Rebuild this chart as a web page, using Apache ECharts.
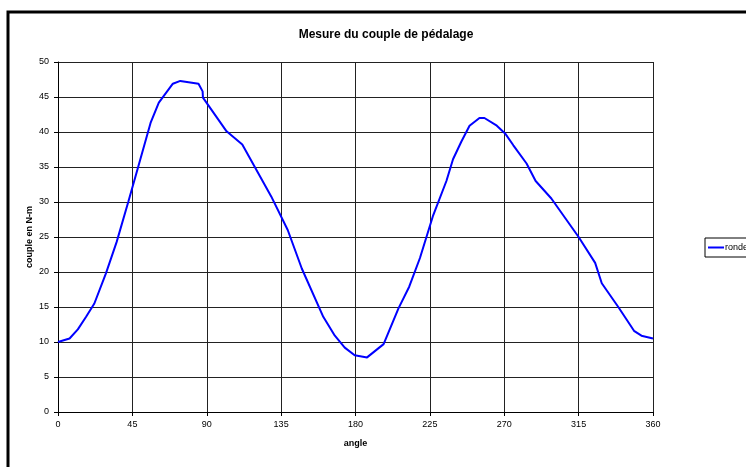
<!DOCTYPE html>
<html>
<head>
<meta charset="utf-8">
<script src="https://cdn.jsdelivr.net/npm/echarts@6/dist/echarts.min.js"></script>
<style>
  html, body { margin: 0; padding: 0; background: #fff; }
  #chart { width: 746px; height: 467px; }
</style>
</head>
<body>
<div id="chart"></div>
<script>
// angle (degrés) et couple (N-m)
const angles = [0, 7, 12, 17, 22, 29, 35.5, 42.5, 48.5, 56, 61, 69.5, 74, 85, 87.5, 87.7,
  102, 111.5, 129, 139, 147.5, 160.5, 167.5, 173.5, 179.5, 187, 197, 206, 212.5, 219,
  227, 235, 239, 244, 249, 255, 258, 265.5, 270.5, 275.5, 283.5, 289, 298.5, 315, 325,
  329, 339, 348.5, 353, 360]
const couple = [10.0, 10.5, 11.8, 13.6, 15.5, 19.8, 24.3, 30.0, 35.0, 41.3, 44.2, 46.9, 47.3, 46.9, 45.8, 44.9,
  40.1, 38.2, 30.8, 26.0, 20.5, 13.6, 10.9, 9.2, 8.1, 7.8, 9.7, 14.8, 17.9, 22.0,
  28.1, 33.0, 36.1, 38.6, 40.9, 42.0, 42.0, 40.9, 39.8, 38.1, 35.5, 33.0, 30.5, 25.0, 21.3,
  18.4, 15.0, 11.6, 10.9, 10.5]
const seriesName = 'ronde'
const xTicks = [0, 45, 90, 135, 180, 225, 270, 315, 360]

const font = 'Liberation Sans, Arial, sans-serif'
const chart = echarts.init(document.getElementById('chart'))

chart.setOption({
  animation: false,
  backgroundColor: '#fff',
  title: {
    text: 'Mesure du couple de pédalage',
    left: 381, top: 24, textAlign: 'center',
    textStyle: { fontFamily: font, fontSize: 12, fontWeight: 'bold', color: '#000' }
  },
  legend: {
    left: 705, top: 238,
    itemWidth: 16, itemHeight: 2, itemGap: 4,
    borderColor: '#000', borderWidth: 1, padding: [5, 3, 5, 3], borderRadius: 0,
    icon: 'rect',
    textStyle: { fontFamily: font, fontSize: 9, color: '#000', padding: [0, 0, 0, -4] },
    data: [seriesName]
  },
  // cadre du graphique (coupé à droite et en bas)
  graphic: [{
    type: 'rect',
    shape: { x: 8, y: 12, width: 800, height: 500 },
    style: { fill: 'none', stroke: '#000', lineWidth: 3 },
    silent: true, z: -1
  }],
  grid: { left: 58, right: 93, top: 62, bottom: 55 },
  xAxis: {
    type: 'value', min: 0, max: 360, interval: 45,
    name: 'angle', nameLocation: 'middle', nameGap: 27,
    nameTextStyle: { fontFamily: font, fontSize: 9, fontWeight: 'bold', color: '#000' },
    axisLine: { lineStyle: { color: '#000', width: 1 } },
    axisTick: { show: true, length: 4, lineStyle: { color: '#000' } },
    axisLabel: { fontFamily: font, fontSize: 9, color: '#000', margin: 8,
      customValues: xTicks },
    splitLine: { show: true, lineStyle: { color: '#222', width: 1 } }
  },
  yAxis: {
    type: 'value', min: 0, max: 50, interval: 5,
    name: 'couple en N-m', nameLocation: 'middle', nameGap: 24, nameRotate: 90,
    nameMoveOverlap: false,
    nameTextStyle: { fontFamily: font, fontSize: 9, fontWeight: 'bold', color: '#000' },
    axisLine: { show: true, lineStyle: { color: '#000', width: 1 } },
    axisTick: { show: true, length: 4, lineStyle: { color: '#000' } },
    axisLabel: { fontFamily: font, fontSize: 9, color: '#000', margin: 9 },
    splitLine: { show: true, lineStyle: { color: '#222', width: 1 } }
  },
  series: [{
    name: seriesName,
    type: 'line',
    data: angles.map((a, i) => [a, couple[i]]),
    showSymbol: false,
    symbol: 'none',
    lineStyle: { color: '#0000ff', width: 2 },
    itemStyle: { color: '#0000ff' }
  }]
})
</script>
</body>
</html>
